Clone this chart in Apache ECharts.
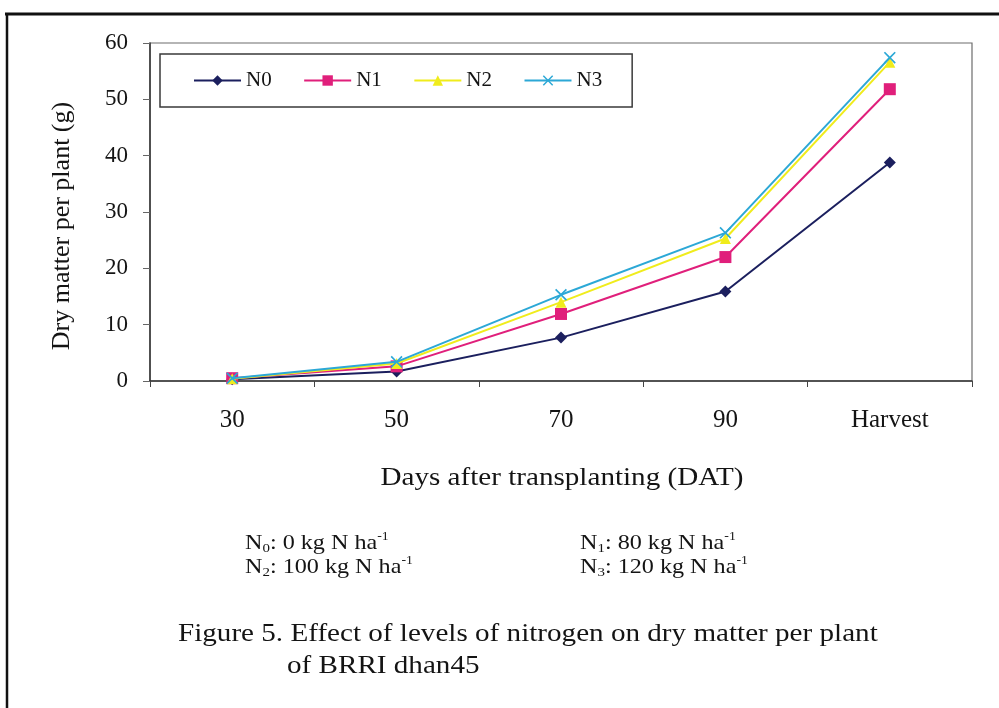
<!DOCTYPE html>
<html>
<head>
<meta charset="utf-8">
<script src="https://cdn.jsdelivr.net/npm/echarts@6/dist/echarts.min.js"></script>
<style>
  html, body { margin: 0; padding: 0; background: #ffffff; }
  #chart { width: 999px; height: 708px; }
</style>
</head>
<body>
<div id="chart"></div>
<script>
// Sampling dates (days after transplanting)
const categories = ['30', '50', '70', '90', 'Harvest'];

// Dry matter per plant (g) for each nitrogen level
const seriesNames = ['N0', 'N1', 'N2', 'N3'];
const n0 = [0.3, 1.7, 7.7, 15.9, 38.8];
const n1 = [0.5, 2.6, 11.9, 22.0, 51.8];
const n2 = [0.4, 3.1, 14.0, 25.3, 56.6];
const n3 = [0.5, 3.4, 15.3, 26.3, 57.4];

// Y axis ticks
const yMin = 0, yMax = 60, yStep = 10;

const FONT = '"Liberation Serif", "Times New Roman", serif';
const INK = '#141414';
const WIDE = 1.12; // the printed lettering runs a little wide

const colors = ['#1b1f5e', '#e01f7b', '#f0ec1c', '#2ca8d6'];
const crossPath = 'path://M0,1L1,0L5,4L9,0L10,1L6,5L10,9L9,10L5,6L1,10L0,9L4,5Z';
const symbols = ['diamond', 'rect', 'triangle', crossPath];
const symbolSizes = [12, 12, 11, 12];
const values = [n0, n1, n2, n3];

const chart = echarts.init(document.getElementById('chart'), null, { renderer: 'canvas' });

const noteRich = {
  sub: { fontSize: 13, fontFamily: FONT, color: INK, lineHeight: 9, verticalAlign: 'bottom' },
  sup: { fontSize: 12, fontFamily: FONT, color: INK, lineHeight: 9, verticalAlign: 'top' }
};
function noteText(x, y, idx, amount) {
  return {
    type: 'text', x: x, y: y, scaleX: WIDE + 0.03,
    style: {
      text: 'N{sub|' + idx + '}: ' + amount + ' kg N ha{sup|-1}',
      rich: noteRich,
      font: '21px ' + FONT, fill: INK, lineHeight: 24,
      align: 'left', verticalAlign: 'middle'
    }
  };
}
function plainText(x, y, txt, size, align) {
  return {
    type: 'text', x: x, y: y, scaleX: WIDE,
    style: { text: txt, font: size + 'px ' + FONT, fill: INK, align: align, verticalAlign: 'middle' }
  };
}

const option = {
  backgroundColor: '#ffffff',
  animation: false,
  color: colors,
  grid: {
    left: 150, right: 27, top: 43, bottom: 327,
    show: true, borderColor: '#6d6d6d', borderWidth: 1.2, backgroundColor: 'transparent'
  },
  legend: {
    left: 160, top: 54,
    itemWidth: 47, itemHeight: 13, itemGap: 31.5,
    padding: [16, 30, 16, 33],
    borderColor: '#3a3a3a', borderWidth: 1.5,
    textStyle: { fontFamily: FONT, fontSize: 21, color: INK },
    data: seriesNames
  },
  xAxis: {
    type: 'category',
    data: categories,
    boundaryGap: true,
    axisLine: { lineStyle: { color: '#333', width: 1.5 } },
    axisTick: { show: true, length: 6, inside: false, lineStyle: { color: '#444', width: 1 } },
    axisLabel: { fontFamily: FONT, fontSize: 25, color: INK, margin: 27 },
    splitLine: { show: false }
  },
  yAxis: {
    type: 'value',
    min: yMin, max: yMax, interval: yStep,
    axisLine: { show: true, lineStyle: { color: '#333', width: 1.5 } },
    axisTick: { show: true, length: 7, inside: false, lineStyle: { color: '#666', width: 1 } },
    axisLabel: { fontFamily: FONT, fontSize: 23, color: INK, margin: 22 },
    splitLine: { show: false }
  },
  series: seriesNames.map((name, i) => ({
    name: name,
    type: 'line',
    data: values[i],
    symbol: symbols[i],
    symbolSize: symbolSizes[i],
    showAllSymbol: true,
    lineStyle: { width: 2, color: colors[i] },
    itemStyle: { color: colors[i] },
    z: 2 + i
  })),
  graphic: [
    // page frame
    { type: 'line', shape: { x1: 5, y1: 14, x2: 999, y2: 14 }, style: { stroke: '#111', lineWidth: 3 } },
    { type: 'line', shape: { x1: 7, y1: 13, x2: 7, y2: 708 }, style: { stroke: '#111', lineWidth: 2.5 } },
    // axis titles
    {
      type: 'text', x: 62, y: 226, rotation: Math.PI / 2,
      style: { text: 'Dry matter per plant (g)', font: '26px ' + FONT, fill: INK, align: 'center', verticalAlign: 'middle' }
    },
    plainText(562, 478, 'Days after transplanting (DAT)', 26, 'center'),
    // treatment key
    noteText(245, 543, 0, '0'),
    noteText(580, 543, 1, '80'),
    noteText(245, 567, 2, '100'),
    noteText(580, 567, 3, '120'),
    // figure caption
    plainText(178, 634, 'Figure 5. Effect of levels of nitrogen on dry matter per plant', 26, 'left'),
    plainText(287, 666, 'of BRRI dhan45', 26, 'left')
  ]
};

chart.setOption(option);
</script>
</body>
</html>
